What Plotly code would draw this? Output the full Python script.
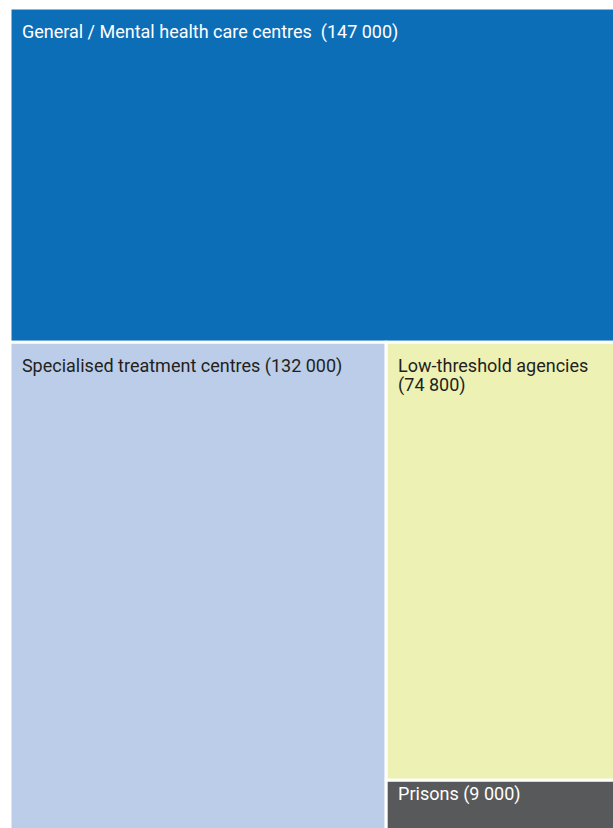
import plotly.graph_objects as go

# Treatment settings and number of clients in each
settings = [
    "General / Mental health care centres",
    "Specialised treatment centres",
    "Low-threshold agencies",
    "Prisons",
]
clients = [147000, 132000, 74800, 9000]
# label lines as shown inside each tile
label_lines = [
    ["General / Mental health care centres  ({v})"],
    ["Specialised treatment centres ({v})"],
    ["Low-threshold agencies", "({v})"],
    ["Prisons ({v})"],
]
# small tiles keep their label tight against the top edge
label_top_gap = [True, True, True, False]
fill_colors = ["#0d6eb8", "#bbcde8", "#edf1b3", "#58595b"]
text_colors = ["#ffffff", "#231f20", "#231f20", "#ffffff"]

INDENT = "\u00a0\u00a0"
TOP_GAP = "<span style='font-size:8px'>\u00a0</span><br>"


def fmt(v):
    return f"{v:,}".replace(",", " ")


def tile_text(lines, v, gap):
    body = "<br>".join(
        f"<span style='font-size:18px'>{INDENT}{ln.format(v=fmt(v))}</span>" for ln in lines
    )
    return (TOP_GAP if gap else "") + body


labels_text = [tile_text(ls, v, g) for ls, v, g in zip(label_lines, clients, label_top_gap)]

fig = go.Figure(
    go.Treemap(
        labels=settings,
        parents=[""] * len(settings),
        values=clients,
        text=labels_text,
        texttemplate="%{text}",
        textposition="top left",
        textfont=dict(family="Roboto, Liberation Sans, sans-serif", size=15, color=text_colors),
        marker=dict(
            colors=fill_colors,
            line=dict(color="#ffffff", width=3),
            pad=dict(t=0, l=0, r=0, b=0),
        ),
        tiling=dict(packing="binary", pad=0),
        pathbar=dict(visible=False),
        sort=False,
        hoverinfo="skip",
    )
)

fig.update_layout(
    width=630,
    height=840,
    margin=dict(l=10, r=5, t=8, b=7),
    paper_bgcolor="#ffffff",
    showlegend=False,
)

fig.write_html(
    "out.html",
    post_script="document.documentElement.style.overflow='hidden';document.body.style.overflow='hidden';document.body.style.margin='0';",
)
